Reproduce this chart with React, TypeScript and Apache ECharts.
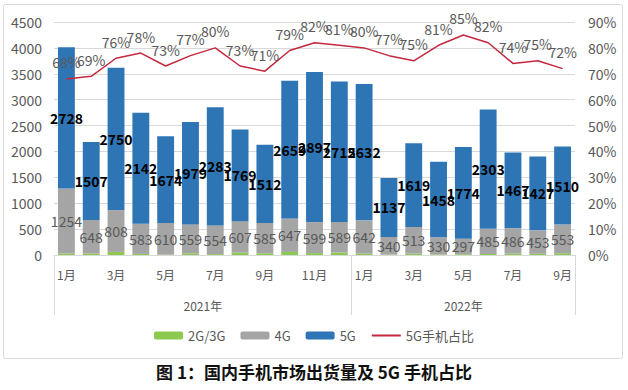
import React, { useEffect, useRef } from "react";
import * as echarts from "echarts";

const months = [
  "1月", "2月", "3月", "4月", "5月", "6月", "7月", "8月", "9月", "10月", "11月", "12月",
  "1月", "2月", "3月", "4月", "5月", "6月", "7月", "8月", "9月",
];
const years = ["2021年", "2022年"];
const g23 = [30, 29, 60, 21, 9, 32, 17, 47, 33, 60, 37, 48, 28, 9, 27, 12, 16, 20, 29, 23, 34];
const g4 = [1254, 648, 808, 583, 610, 559, 554, 607, 585, 647, 599, 589, 642, 340, 513, 330, 297, 485, 486, 453, 553];
const g5 = [2728, 1507, 2750, 2142, 1674, 1979, 2283, 1769, 1512, 2659, 2897, 2715, 2632, 1137, 1619, 1458, 1774, 2303, 1467, 1427, 1510];
const share = [68, 69, 76, 78, 73, 77, 80, 73, 71, 79, 82, 81, 80, 77, 75, 81, 85, 82, 74, 75, 72];
const leftTicks = { min: 0, max: 4500, interval: 500 };
const rightTicks = { min: 0, max: 90, interval: 10 };
const titleText = "图 1：国内手机市场出货量及 5G 手机占比";

const FONT = "'Noto Sans CJK SC', 'Noto Sans', sans-serif";
const GREY_TEXT = "#595959";
const RED = "#c5283d";

export default function App() {
  const ref = useRef<HTMLDivElement>(null);
  useEffect(() => {
    if (!ref.current) return;
    const chart = echarts.init(ref.current, undefined, { renderer: "svg" });
    chart.setOption({
      animation: false,
      backgroundColor: "#ffffff",
      textStyle: { fontFamily: FONT },
      title: {
        text: titleText,
        left: "center",
        top: 358,
        textStyle: { fontSize: 17, fontWeight: "bold", color: "#111", fontFamily: FONT },
      },
      graphic: [
        {
          type: "rect",
          shape: { x: 3.5, y: 4.5, width: 619, height: 354, r: 2 },
          style: { fill: "none", stroke: "#d9d9d9", lineWidth: 1 },
          silent: true,
          z: -10,
        },
      ],
      legend: {
        left: "center",
        top: 324,
        itemWidth: 29,
        itemHeight: 8,
        itemGap: 15,
        textStyle: { color: GREY_TEXT, fontSize: 13, fontFamily: FONT },
        data: [
          "2G/3G",
          "4G",
          "5G",
          { name: "5G手机占比", itemStyle: { opacity: 0 } },
        ],
      },
      grid: { left: 54, right: 53, top: 22, bottom: 135 },
      xAxis: [
        {
          type: "category",
          data: months,
          axisLine: { show: true, lineStyle: { color: "#d9d9d9" } },
          axisTick: {
            show: true,
            interval: (i: number) => i === 0 || i === 12,
            length: 60,
            lineStyle: { color: "#d9d9d9" },
          },
          axisLabel: { interval: 1, color: GREY_TEXT, fontSize: 12, margin: 13 },
        },
        {
          type: "value",
          position: "bottom",
          min: 0,
          max: 21,
          interval: 1.5,
          axisLine: { show: false },
          axisTick: { show: false },
          splitLine: { show: false },
          axisLabel: {
            margin: 44,
            color: GREY_TEXT,
            fontSize: 12,
            formatter: (v: number) => (v === 6 ? years[0] : v === 16.5 ? years[1] : ""),
          },
        },
      ],
      yAxis: [
        {
          type: "value",
          ...leftTicks,
          axisLine: { show: false },
          axisTick: { show: false },
          axisLabel: {
            color: GREY_TEXT,
            fontSize: 14,
            margin: 12,
            formatter: (v: number) => String(v),
          },
          splitLine: { lineStyle: { color: "#d9d9d9" } },
        },
        {
          type: "value",
          ...rightTicks,
          position: "right",
          axisLine: { show: false },
          axisTick: { show: false },
          axisLabel: {
            color: GREY_TEXT,
            fontSize: 14,
            margin: 13,
            formatter: (v: number) => v + "%",
          },
          splitLine: { show: false },
        },
      ],
      series: [
        {
          name: "2G/3G",
          type: "bar",
          stack: "total",
          data: g23,
          barWidth: "68%",
          itemStyle: { color: "#8cc94f" },
        },
        {
          name: "4G",
          type: "bar",
          stack: "total",
          data: g4,
          itemStyle: { color: "#a5a5a5" },
          label: {
            show: true,
            position: "inside",
            color: GREY_TEXT,
            fontSize: 14,
            fontFamily: FONT,
          },
        },
        {
          name: "5G",
          type: "bar",
          stack: "total",
          data: g5,
          itemStyle: { color: "#2e75b6" },
          label: {
            show: true,
            position: "inside",
            color: "#000",
            fontSize: 14,
            fontWeight: "bold",
            fontFamily: FONT,
          },
        },
        {
          name: "5G手机占比",
          type: "line",
          yAxisIndex: 1,
          data: share,
          symbol: "circle",
          symbolSize: 1,
          showSymbol: true,
          lineStyle: { color: RED, width: 1.5 },
          itemStyle: { color: RED, opacity: 0 },
          label: {
            show: true,
            position: "top",
            distance: 9,
            color: GREY_TEXT,
            opacity: 1,
            fontSize: 14,
            fontFamily: FONT,
            formatter: (p: any) => p.value + "%",
          },
        },
      ],
    });
    return () => chart.dispose();
  }, []);
  return (
    <div
      ref={ref}
      style={{ position: "absolute", left: 0, top: 0, width: 628, height: 390 }}
    />
  );
}
